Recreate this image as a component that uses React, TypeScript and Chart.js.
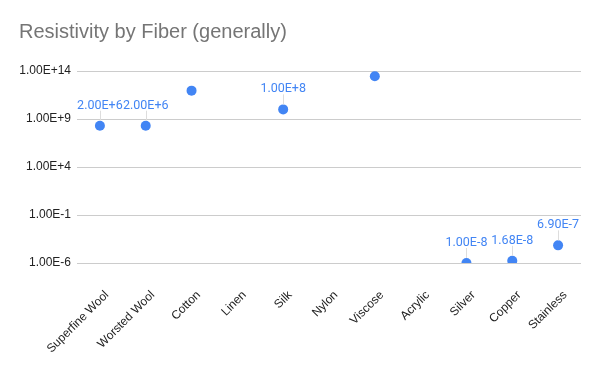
import React, { useEffect, useRef } from "react";
import { Chart, registerables } from "chart.js";

Chart.register(...registerables);

const categories = [
  "Superfine Wool",
  "Worsted Wool",
  "Cotton",
  "Linen",
  "Silk",
  "Nylon",
  "Viscose",
  "Acrylic",
  "Silver",
  "Copper",
  "Stainless",
];
const resistivity: (number | null)[] = [2e8, 2e8, 9e11, null, 1e10, null, 2.8e13, null, 1e-6, 1.68e-6, 6.9e-5];
const pointLabels = ["2.00E+6", "2.00E+6", "", "", "1.00E+8", "", "", "", "1.00E-8", "1.68E-8", "6.90E-7"];
const yTicks = [1e-6, 1e-1, 1e4, 1e9, 1e14];
const yTickLabels = ["1.00E-6", "1.00E-1", "1.00E+4", "1.00E+9", "1.00E+14"];

const BLUE = "#4285f4";

const labelPlugin = {
  id: "pointLabels",
  afterDatasetsDraw(chart: any) {
    const ctx = chart.ctx;
    const meta = chart.getDatasetMeta(0);
    ctx.save();
    ctx.font = "12.5px Roboto, Arial, sans-serif";
    ctx.fillStyle = BLUE;
    ctx.textAlign = "center";
    ctx.textBaseline = "alphabetic";
    meta.data.forEach((el: any, i: number) => {
      const txt = pointLabels[i];
      if (!txt || resistivity[i] == null) return;
      const x = el.x;
      const y = el.y;
      ctx.strokeStyle = "#dddddd";
      ctx.lineWidth = 1;
      ctx.beginPath();
      ctx.moveTo(Math.round(x) + 0.5, y - 5);
      ctx.lineTo(Math.round(x) + 0.5, y - 15);
      ctx.stroke();
      ctx.fillText(txt, x, y - 17);
    });
    ctx.restore();
  },
};

export default function App() {
  const ref = useRef<HTMLCanvasElement | null>(null);
  useEffect(() => {
    if (!ref.current) return;
    const chart = new Chart(ref.current, {
      type: "line",
      data: {
        labels: categories,
        datasets: [
          {
            data: resistivity,
            showLine: false,
            pointRadius: 5,
            pointHoverRadius: 5,
            pointBackgroundColor: BLUE,
            pointBorderColor: BLUE,
            pointBorderWidth: 0,
            borderColor: BLUE,
            backgroundColor: BLUE,
          },
        ],
      },
      options: {
        animation: false,
        responsive: true,
        maintainAspectRatio: false,
        layout: { padding: { left: 19, right: 19, top: 0, bottom: 0 } },
        plugins: {
          legend: { display: false },
          tooltip: { enabled: false },
          title: {
            display: true,
            text: "Resistivity by Fiber (generally)",
            align: "start",
            color: "#757575",
            font: { family: "Arial, 'Liberation Sans', sans-serif", size: 20, weight: "normal" },
            padding: { top: 20, bottom: 27 },
          },
        },
        scales: {
          x: {
            offset: true,
            grid: { display: false },
            border: { display: false },
            ticks: {
              minRotation: 45,
              maxRotation: 45,
              autoSkip: false,
              color: "#222222",
              font: { family: "Arial, 'Liberation Sans', sans-serif", size: 12 },
              padding: 17,
              labelOffset: 7,
            },
            afterFit(scale: any) {
              scale.height = 108;
            },
          },
          y: {
            type: "logarithmic",
            min: 1e-6,
            max: 1e14,
            border: { display: false },
            grid: { color: "#cccccc", drawTicks: false, lineWidth: 1 },
            afterBuildTicks(scale: any) {
              scale.ticks = yTicks.map((v) => ({ value: v }));
            },
            ticks: {
              color: "#222222",
              padding: 6,
              font: { family: "Arial, 'Liberation Sans', sans-serif", size: 12 },
              callback: (v: any) => {
                const i = yTicks.indexOf(Number(v));
                return i >= 0 ? yTickLabels[i] : "";
              },
            },
            afterFit(scale: any) {
              scale.width = 58;
            },
          },
        },
      },
      plugins: [labelPlugin],
    } as any);
    return () => chart.destroy();
  }, []);
  return (
    <div style={{ position: "fixed", left: 0, top: 0, width: 600, height: 371, background: "#fff" }}>
      <canvas ref={ref} />
    </div>
  );
}
